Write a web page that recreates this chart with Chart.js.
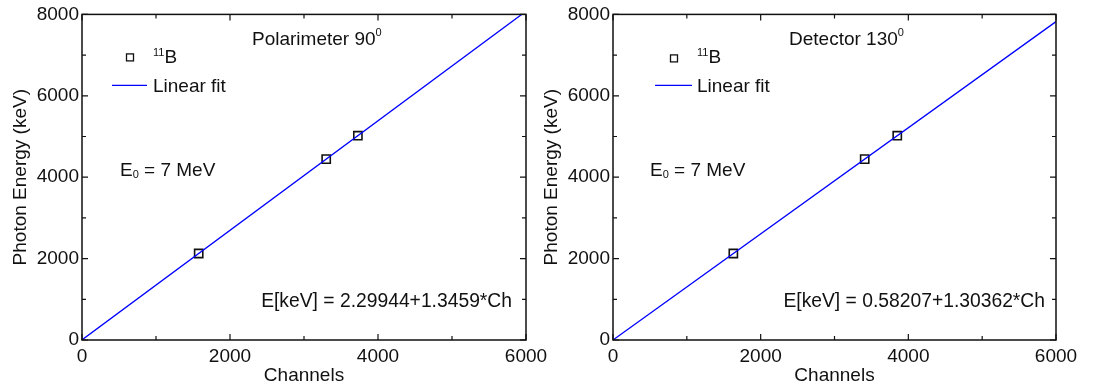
<!DOCTYPE html>
<html lang="en">
<head>
<meta charset="UTF-8">
<title>11B energy calibration</title>
<script src="https://cdn.jsdelivr.net/npm/chart.js"></script>
<style>
    body { margin: 0; background: #fff; width: 1093px; height: 390px; position: relative; overflow: hidden; }
    .panel { position: absolute; top: 0; height: 390px; }
    #leftPanel { left: 0; width: 563px; }
    #rightPanel { left: 531px; width: 562px; }
</style>
</head>
<body>
<div class="panel" id="leftPanel"><canvas id="leftChart"></canvas></div>
<div class="panel" id="rightPanel"><canvas id="rightChart"></canvas></div>
<script>
const xTicks = [0, 2000, 4000, 6000];
const yTicks = [0, 2000, 4000, 6000, 8000];
// 11B gamma lines (keV) and the channel where each one was found
const boronEnergy = [2125, 4444, 5020];
const polChannels = [1577, 3300, 3728];
const detChannels = [1630, 3409, 3850];
// linear fit, end points (channel -> keV)
const fitChannels = [0, 6000];
const polFitEnergy = [2.3, 8078];
const detFitEnergy = [0.6, 7822];

const FONT = 'Liberation Sans, Arial, sans-serif';
const INK = '#111';
const BLUE = '#0000ff';

// box round the plot with ticks pointing inwards on all four sides
const framePlugin = {
    id: 'frame',
    afterDraw(chart) {
        const {ctx, chartArea: a, scales: {x, y}} = chart;
        ctx.save();
        ctx.strokeStyle = INK;
        ctx.lineWidth = 1.5;
        ctx.strokeRect(a.left, a.top, a.right - a.left, a.bottom - a.top);
        ctx.lineWidth = 1.2;
        ctx.beginPath();
        for (let v = x.min; v <= x.max; v += 1000) {
            const px = x.getPixelForValue(v);
            const len = v % 2000 === 0 ? 6 : 4;
            ctx.moveTo(px, a.bottom); ctx.lineTo(px, a.bottom - len);
            ctx.moveTo(px, a.top); ctx.lineTo(px, a.top + len);
        }
        for (let v = y.min; v <= y.max; v += 1000) {
            const py = y.getPixelForValue(v);
            const len = v % 2000 === 0 ? 6 : 4;
            ctx.moveTo(a.left, py); ctx.lineTo(a.left + len, py);
            ctx.moveTo(a.right, py); ctx.lineTo(a.right - len, py);
        }
        ctx.stroke();
        ctx.restore();
    }
};

function drawParts(ctx, x, y, parts) {
    let cx = x;
    parts.forEach(p => {
        ctx.font = p.size + 'px ' + FONT;
        ctx.fillText(p.t, cx, y + (p.dy || 0));
        cx += ctx.measureText(p.t).width + (p.gap || 0);
    });
    return cx - x;
}

// legend and text notes, positions relative to the plot area
function notesPlugin(n) {
    return {
        id: 'notes',
        afterDraw(chart) {
            const {ctx, chartArea: a} = chart;
            ctx.save();
            ctx.fillStyle = INK;
            ctx.textBaseline = 'alphabetic';
            // legend: marker
            ctx.strokeStyle = INK;
            ctx.lineWidth = 1.3;
            ctx.strokeRect(a.left + n.sq[0] - 3.5, a.top + n.sq[1] - 3.5, 7, 7);
            drawParts(ctx, a.left + n.b[0], a.top + n.b[1], [
                {t: '11', size: 11, dy: -7}, {t: 'B', size: 19}
            ]);
            // legend: line
            ctx.strokeStyle = BLUE;
            ctx.lineWidth = 1.3;
            ctx.beginPath();
            ctx.moveTo(a.left + n.ln[0], a.top + n.ln[2]);
            ctx.lineTo(a.left + n.ln[1], a.top + n.ln[2]);
            ctx.stroke();
            drawParts(ctx, a.left + n.fit[0], a.top + n.fit[1], [{t: 'Linear fit', size: 19}]);
            // title
            drawParts(ctx, a.left + n.title[0], a.top + n.title[1], [
                {t: n.title[2], size: 19}, {t: '0', size: 11, dy: -9}
            ]);
            // beam energy
            drawParts(ctx, a.left + n.e0[0], a.top + n.e0[1], [
                {t: 'E', size: 19}, {t: '0', size: 11, dy: 2}, {t: ' = 7 MeV', size: 19}
            ]);
            // fit equation, right aligned
            ctx.font = '19.3px ' + FONT;
            ctx.textAlign = 'right';
            ctx.fillText(n.eq[2], a.left + n.eq[0], a.top + n.eq[1]);
            ctx.restore();
        }
    };
}

function makeChart(id, channels, fitEnergy, padRight, notes) {
    const tickFont = {family: FONT, size: 19};
    new Chart(document.getElementById(id), {
        type: 'scatter',
        data: {
            datasets: [{
                type: 'line',
                data: fitChannels.map((c, i) => ({x: c, y: fitEnergy[i]})),
                borderColor: BLUE,
                borderWidth: 1.3,
                pointRadius: 0,
                fill: false
            }, {
                data: channels.map((c, i) => ({x: c, y: boronEnergy[i]})),
                pointStyle: 'rect',
                pointRadius: 5.8,
                borderColor: INK,
                borderWidth: 1.6,
                backgroundColor: 'rgba(0,0,0,0)'
            }]
        },
        options: {
            responsive: true,
            maintainAspectRatio: false,
            animation: false,
            layout: {padding: {left: 0, right: padRight, top: 14, bottom: 0}},
            plugins: {legend: {display: false}, tooltip: {enabled: false}},
            scales: {
                x: {
                    type: 'linear', min: 0, max: 6000,
                    afterBuildTicks: s => { s.ticks = xTicks.map(v => ({value: v})); },
                    afterFit: s => { s.height = 50; },
                    grid: {display: false, drawTicks: false},
                    border: {display: false},
                    ticks: {font: tickFont, color: INK, padding: 5, maxRotation: 0, callback: v => String(v)},
                    title: {display: true, text: 'Channels', font: tickFont, color: INK, padding: {top: 0, bottom: 3}}
                },
                y: {
                    type: 'linear', min: 0, max: 8000,
                    afterBuildTicks: s => { s.ticks = yTicks.map(v => ({value: v})); },
                    afterFit: s => { s.width = 82; },
                    grid: {display: false, drawTicks: false},
                    border: {display: false},
                    ticks: {font: tickFont, color: INK, padding: 3, callback: v => String(v)},
                    title: {display: true, text: 'Photon Energy (keV)', font: tickFont, color: INK, padding: {top: 9, bottom: 0}}
                }
            }
        },
        plugins: [framePlugin, notesPlugin(notes)]
    });
}

makeChart('leftChart', polChannels, polFitEnergy, 37, {
    sq: [48, 43], b: [71, 49], ln: [30, 65, 71], fit: [71, 78],
    title: [170, 31, 'Polarimeter 90'], e0: [38, 162],
    eq: [430, 293, 'E[keV] = 2.29944+1.3459*Ch']
});
makeChart('rightChart', detChannels, detFitEnergy, 37, {
    sq: [61, 44], b: [84, 49], ln: [42, 79, 71], fit: [84, 78],
    title: [176, 31, 'Detector 130'], e0: [37, 162],
    eq: [432, 293, 'E[keV] = 0.58207+1.30362*Ch']
});
</script>
</body>
</html>
